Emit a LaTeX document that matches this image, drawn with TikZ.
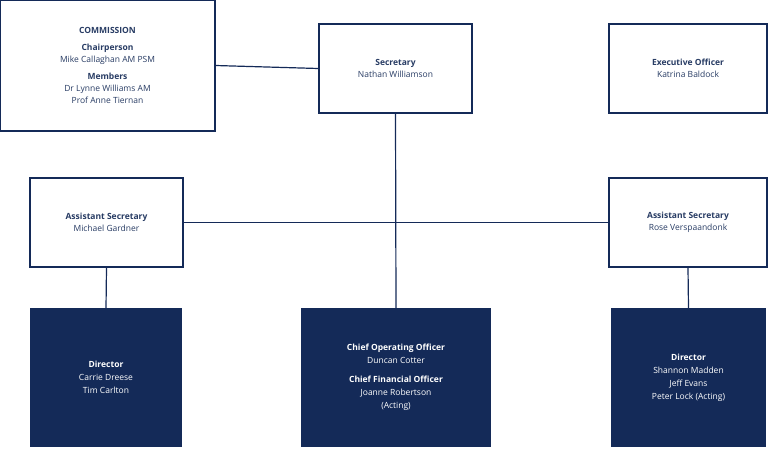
\documentclass[tikz,border=0pt]{standalone}
\usepackage{fontspec}
\setmainfont{Open Sans}
\usetikzlibrary{positioning}
\definecolor{navy}{RGB}{20,42,88}
\definecolor{navytext}{RGB}{40,60,100}
\tikzset{
  box/.style={draw=navy, line width=1.2pt, fill=white, text=navytext, align=center, font=\fontsize{8.5}{12}\selectfont, inner sep=2pt},
  darkbox/.style={draw=navy, line width=1.2pt, fill=navy, text=white, align=center, font=\fontsize{8.5}{13}\selectfont, inner sep=2pt},
  link/.style={draw=navy, line width=1.2pt}
}
\newcommand{\hd}[1]{\textbf{#1}}
\begin{document}
\begin{tikzpicture}[x=1pt,y=-1pt]
\useasboundingbox (0,0) rectangle (768,451);
% top row
\node (comm) [box, minimum width=215pt, minimum height=131pt] at (107.5,65.5)
  {\hd{COMMISSION}\\[5pt] \hd{Chairperson}\\ Mike Callaghan AM PSM\\[5pt] \hd{Members}\\ Dr Lynne Williams AM\\ Prof Anne Tiernan};
\node (sec) [box, minimum width=153pt, minimum height=89pt] at (395.5,68.5)
  {\hd{Secretary}\\ Nathan Williamson};
\node (exec) [box, minimum width=158pt, minimum height=89pt] at (688,68.5)
  {\hd{Executive Officer}\\ Katrina Baldock};
% middle row
\node (asl) [box, minimum width=153pt, minimum height=89pt] at (106.5,222.5)
  {\hd{Assistant Secretary}\\ Michael Gardner};
\node (asr) [box, minimum width=158pt, minimum height=89pt] at (688,222.5)
  {\hd{Assistant Secretary}\\ Rose Verspaandonk};
% bottom row
\node (dirl) [darkbox, minimum width=151pt, minimum height=137pt] at (106,377.5)
  {\hd{Director}\\ Carrie Dreese\\ Tim Carlton};
\node (coo) [darkbox, minimum width=188pt, minimum height=137pt] at (396,377.5)
  {\hd{Chief Operating Officer}\\ Duncan Cotter\\[6pt] \hd{Chief Financial Officer}\\ Joanne Robertson\\ (Acting)};
\node (dirr) [darkbox, minimum width=153pt, minimum height=137pt] at (688.5,377.5)
  {\hd{Director}\\ Shannon Madden\\ Jeff Evans\\ Peter Lock (Acting)};
% connectors
\draw[link] (comm.east) -- (sec.west);
\draw[link] (sec.south) -- (coo.north);
\draw[link] (asl.east) -- (asr.west);
\draw[link] (asl.south) -- (dirl.north);
\draw[link] (asr.south) -- (dirr.north);
\end{tikzpicture}
\end{document}
